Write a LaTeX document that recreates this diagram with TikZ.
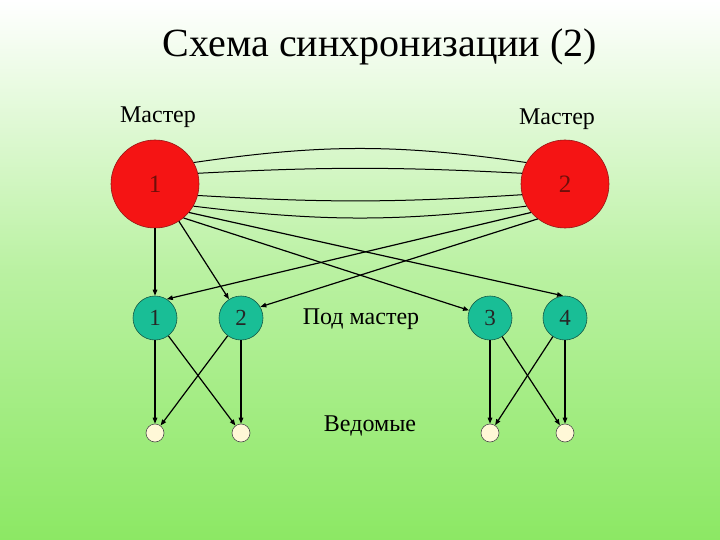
\documentclass[tikz,border=0pt]{standalone}
\usepackage{fontspec}
\setmainfont{Liberation Serif}
\usetikzlibrary{arrows.meta}
\definecolor{bggreen}{RGB}{140,232,100}
\definecolor{mred}{RGB}{245,20,20}
\definecolor{mredb}{RGB}{150,20,20}
\definecolor{mtext}{RGB}{110,15,10}
\definecolor{gteal}{RGB}{25,190,150}
\definecolor{gtealb}{RGB}{20,90,70}
\definecolor{scream}{RGB}{255,248,215}
\tikzset{
  master/.style={circle,fill=mred,draw=mredb,line width=0.6pt,minimum size=88pt,inner sep=0pt,font=\fontsize{25}{29}\selectfont,text=mtext},
  sub/.style={circle,fill=gteal,draw=gtealb,line width=0.6pt,minimum size=44pt,inner sep=0pt,font=\fontsize{23}{27}\selectfont,text=black!85},
  slave/.style={circle,fill=scream,draw=black!70,line width=0.6pt,minimum size=18pt,inner sep=0pt},
  lbl/.style={font=\fontsize{24}{28}\selectfont},
  link/.style={line width=1pt},
  arr/.style={line width=1.2pt,-{Triangle[length=6pt,width=4.5pt]}}
}
\begin{document}
\begin{tikzpicture}[x=1pt,y=-1pt]
\shade[top color=white,bottom color=bggreen,middle color=white!40!bggreen] (0,0) rectangle (720,540);
\useasboundingbox (0,0) rectangle (720,540);
\node[font=\fontsize{40}{46}\selectfont] (title) at (380,47) {Схема синхронизации (2)};
\node[lbl] (lm1) at (158,117) {Мастер};
\node[lbl] (lm2) at (557,119) {Мастер};
\node[lbl] (lsub) at (361,319) {Под мастер};
\node[lbl] (lsl) at (370,426) {Ведомые};
\node[master] (m1) at (155,184) {1};
\node[master] (m2) at (565,184) {2};
\node[sub] (g1) at (155,318) {1};
\node[sub] (g2) at (241,318) {2};
\node[sub] (g3) at (490,318) {3};
\node[sub] (g4) at (565,318) {4};
\node[slave] (s1) at (155,433) {};
\node[slave] (s2) at (241,433) {};
\node[slave] (s3) at (490,433) {};
\node[slave] (s4) at (565,433) {};
% arcs between masters
\draw[link] (m1.29) to[bend left=8.3] (m2.151);
\draw[link] (m1.14) to[bend left=3] (m2.166);
\draw[link] (m1.-15) to[bend right=3.5] (m2.-166);
\draw[link] (m1.-30) to[bend right=7] (m2.-150);
% master to sub
\draw[arr] (m1) -- (g1);
\draw[arr] (m1) -- (g2);
\draw[arr] (m1.-50) -- (g3.160);
\draw[arr] (m1.-40) -- (g4.95);
\draw[arr] (m2.-140) -- (g1.58);
\draw[arr] (m2.-128) -- (g2.30);
% sub to slaves
\draw[arr] (g1) -- (s1);
\draw[arr] (g1) -- (s2);
\draw[arr] (g2) -- (s1);
\draw[arr] (g2) -- (s2);
\draw[arr] (g3) -- (s3);
\draw[arr] (g3) -- (s4);
\draw[arr] (g4) -- (s3);
\draw[arr] (g4) -- (s4);
\end{tikzpicture}
\end{document}
